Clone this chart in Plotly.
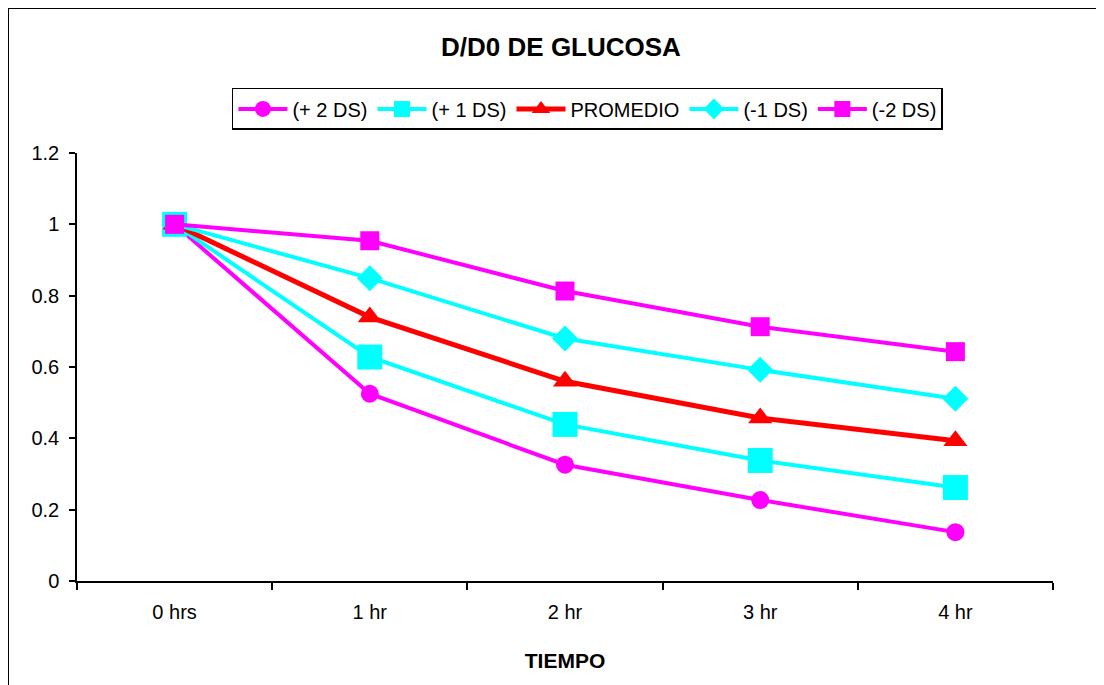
import plotly.graph_objects as go

categories = ["0 hrs", "1 hr", "2 hr", "3 hr", "4 hr"]
plus2 = [1.0, 0.525, 0.326, 0.227, 0.137]
plus1 = [1.0, 0.628, 0.439, 0.338, 0.262]
promedio = [1.0, 0.74, 0.56, 0.457, 0.393]
minus1 = [1.0, 0.849, 0.68, 0.592, 0.511]
minus2 = [1.0, 0.954, 0.813, 0.713, 0.643]
series_names = ["(+ 2 DS)", "(+ 1 DS)", "PROMEDIO", "(-1 DS)", "(-2 DS)"]
y_ticks = [0, 0.2, 0.4, 0.6, 0.8, 1.0, 1.2]
y_tick_text = ["0", "0.2", "0.4", "0.6", "0.8", "1", "1.2"]

FONT = "Liberation Sans, Arial, sans-serif"
MAG = "#FF00FF"
CYAN = "#00FFFF"
RED = "#FF0000"

styles = [
    (MAG, "circle", 18, 4),
    (CYAN, "square", 25, 4),
    (RED, "triangle-up", 21, 5),
    (CYAN, "diamond", 20, 4),
    (MAG, "square", 19, 4),
]
values = [plus2, plus1, promedio, minus1, minus2]

fig = go.Figure()
for name, vals, (color, sym, size, lw) in zip(series_names, values, styles):
    fig.add_trace(go.Scatter(
        x=categories, y=vals, name=name, mode="lines+markers",
        line=dict(color=color, width=lw),
        marker=dict(symbol=sym, size=size, color=color, line=dict(width=0)),
    ))

W, H = 1096, 677
L, T = 69, 145
PW, PH = 976, 428

fig.update_layout(
    width=W, height=H,
    paper_bgcolor="white", plot_bgcolor="white",
    margin=dict(l=L, r=W - L - PW, t=T, b=H - T - PH),
    font=dict(family=FONT, size=20, color="black"),
    title=dict(text="<b>D/D0 DE GLUCOSA</b>", x=553 / W, xanchor="center",
               y=1 - 39 / H, yanchor="middle", font=dict(size=26, family=FONT)),
    legend=dict(orientation="h", x=0.523, xanchor="center", y=1.152, yanchor="top",
                bordercolor="black", borderwidth=1.5, bgcolor="white",
                font=dict(size=20, family=FONT), itemwidth=49, tracegroupgap=0),
    showlegend=True,
)
fig.update_xaxes(
    type="category", range=[-0.5, 4.5], showline=True, linecolor="black", linewidth=1.5,
    ticks="outside", tickson="boundaries", ticklen=7, tickcolor="black", tickwidth=1.5,
    showgrid=False, zeroline=False, ticklabelstandoff=12,
    title=dict(text="<b>TIEMPO</b>", font=dict(size=21, family=FONT), standoff=32),
    tickfont=dict(size=20),
)
fig.update_yaxes(
    range=[0, 1.2], tickvals=y_ticks, ticktext=y_tick_text, showline=True,
    linecolor="black", linewidth=1.5, ticks="outside", ticklen=6, tickcolor="black",
    tickwidth=1.5, showgrid=False, zeroline=False, tickfont=dict(size=20),
    ticklabelstandoff=6,
)
fig.add_shape(type="line", xref="paper", yref="paper",
              x0=-L / PW, x1=-L / PW, y0=-0.5, y1=(T + PH) / PH,
              line=dict(color="black", width=2), layer="below")
fig.add_shape(type="line", xref="paper", yref="paper",
              x0=-L / PW, x1=1.2, y0=(T + PH) / PH, y1=(T + PH) / PH,
              line=dict(color="black", width=2), layer="below")

fig.write_html("out.html")
